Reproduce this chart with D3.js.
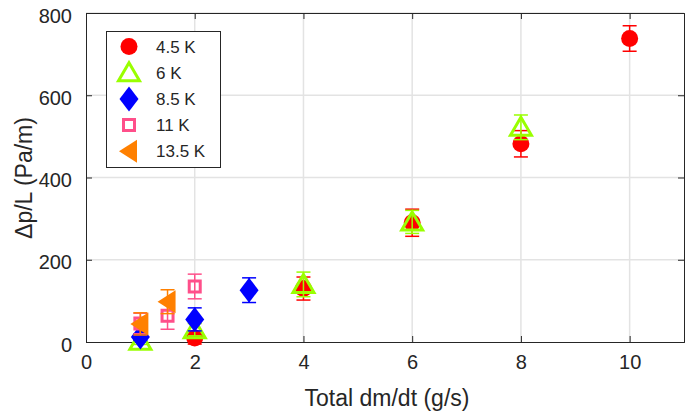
<!DOCTYPE html>
<html>
<head>
<meta charset="utf-8">
<script src="https://cdn.jsdelivr.net/npm/d3@7"></script>
<style>
  body { margin: 0; background: #fff; }
  svg text { font-family: "Liberation Sans", Arial, Helvetica, sans-serif; fill: #262626; }
</style>
</head>
<body>
<svg id="chart" width="699" height="413"></svg>
<script>
// data
const seriesNames = ['4.5 K', '6 K', '8.5 K', '11 K', '13.5 K'];

const k45x = [2, 4, 6, 8, 10];
const k45y = [10, 130, 290, 482, 738];
const k45e = [15, 28, 33, 32, 31];

const k6x = [1, 2, 4, 6, 8];
const k6y = [2, 30, 140, 292, 522];
const k6e = [8, 15, 30, 28, 30];

const k85x = [1, 2, 3];
const k85y = [12, 55, 126];
const k85e = [8, 28, 30];

const k11x = [1, 1.5, 2];
const k11y = [45, 64, 135];
const k11e = [25, 33, 30];

const k135x = [1, 1.5];
const k135y = [44, 98];
const k135e = [27, 29];

const xTicks = [0, 2, 4, 6, 8, 10];
const yTicks = [0, 200, 400, 600, 800];

const svg = d3.select('#chart');

const mLeft = 86, mRight = 684, mTop = 13, mBottom = 342;
const x = d3.scaleLinear().domain([0, 11]).range([mLeft, mRight]);
const y = d3.scaleLinear().domain([0, 800]).range([mBottom, mTop]);

// grid
svg.append('g').selectAll('line').data(xTicks.slice(1)).join('line')
  .attr('x1', d => x(d)).attr('x2', d => x(d))
  .attr('y1', mTop).attr('y2', mBottom)
  .attr('stroke', '#e3e3e3').attr('stroke-width', 1.5);
svg.append('g').selectAll('line').data(yTicks.slice(1)).join('line')
  .attr('x1', mLeft).attr('x2', mRight)
  .attr('y1', d => y(d)).attr('y2', d => y(d))
  .attr('stroke', '#e3e3e3').attr('stroke-width', 1.5);

// axes (ticks pointing inward, box all round)
const xAxis = d3.axisBottom(x).tickValues(xTicks).tickSize(-6).tickPadding(13);
const yAxis = d3.axisLeft(y).tickValues(yTicks).tickSize(-6).tickPadding(14);
const gx = svg.append('g').attr('transform', `translate(0,${mBottom})`).call(xAxis);
const gy = svg.append('g').attr('transform', `translate(${mLeft},0)`).call(yAxis);
svg.append('g').attr('transform', `translate(0,${mTop})`)
  .call(d3.axisTop(x).tickValues(xTicks).tickSize(-6).tickFormat(''));
svg.append('g').attr('transform', `translate(${mRight},0)`)
  .call(d3.axisRight(y).tickValues(yTicks).tickSize(-6).tickFormat(''));
svg.selectAll('.domain').attr('stroke', '#262626');
svg.selectAll('.tick line').attr('stroke', '#262626');
gx.selectAll('text').attr('font-size', 20).attr('fill', '#262626');
gy.selectAll('text').attr('font-size', 20).attr('fill', '#262626').attr('dy', '0.45em');

// axis labels
svg.append('text').attr('x', 387).attr('y', 406)
  .attr('text-anchor', 'middle').attr('font-size', 23)
  .text('Total dm/dt (g/s)');
svg.append('text').attr('transform', 'translate(32,178) rotate(-90)')
  .attr('text-anchor', 'middle').attr('font-size', 23)
  .text('Δp/L (Pa/m)');

// marker shapes
const shapes = {
  circle: () => 'M-8.5,0A8.5,8.5 0 1,0 8.5,0A8.5,8.5 0 1,0 -8.5,0Z',
  triUp: () => 'M0,-10L10.5,8L-10.5,8Z',
  diamond: () => 'M0,-12.5L9.5,0L0,12.5L-9.5,0Z',
  square: () => 'M-5.5,-5.5H5.5V5.5H-5.5Z',
  triLeft: () => 'M-10,0L8,-11.5L8,11.5Z'
};

const series = [
  { xs: k45x, ys: k45y, es: k45e, color: '#ff0000', shape: 'circle', fill: true },
  { xs: k6x, ys: k6y, es: k6e, color: '#99ff00', shape: 'triUp', fill: false, sw: 3 },
  { xs: k85x, ys: k85y, es: k85e, color: '#0000ff', shape: 'diamond', fill: true },
  { xs: k11x, ys: k11y, es: k11e, color: '#ff4f8a', shape: 'square', fill: false, sw: 3 },
  { xs: k135x, ys: k135y, es: k135e, color: '#ff8000', shape: 'triLeft', fill: true }
];

function drawMarker (g, s) {
  g.append('path').attr('d', shapes[s.shape]())
    .attr('fill', s.fill ? s.color : 'none')
    .attr('stroke', s.fill ? 'none' : s.color)
    .attr('stroke-width', s.sw || 0);
}

series.forEach((s, i) => {
  const pts = s.xs.map((v, j) => ({ x: v, y: s.ys[j], e: s.es[j] }));
  const g = svg.append('g');
  pts.forEach(p => {
    const px = x(p.x), y1 = y(p.y + p.e), y0 = y(p.y - p.e);
    const eb = g.append('g').attr('stroke', s.color).attr('stroke-width', 1.5);
    eb.append('line').attr('x1', px).attr('x2', px).attr('y1', y1).attr('y2', y0);
    eb.append('line').attr('x1', px - 7).attr('x2', px + 7).attr('y1', y1).attr('y2', y1);
    eb.append('line').attr('x1', px - 7).attr('x2', px + 7).attr('y1', y0).attr('y2', y0);
    const m = g.append('g').attr('transform', `translate(${px},${y(p.y)})`);
    drawMarker(m, s);
  });
});

// legend
const lg = svg.append('g');
lg.append('rect').attr('x', 106.5).attr('y', 31.5).attr('width', 114).attr('height', 136)
  .attr('fill', '#fff').attr('stroke', '#262626').attr('stroke-width', 1);
series.forEach((s, i) => {
  const ly = 46.5 + i * 26.2;
  const m = lg.append('g').attr('transform', `translate(129,${ly})`);
  drawMarker(m, s);
  lg.append('text').attr('x', 156).attr('y', ly).attr('dy', '0.36em')
    .attr('font-size', 17).attr('fill', '#000').text(seriesNames[i]);
});
</script>
</body>
</html>
